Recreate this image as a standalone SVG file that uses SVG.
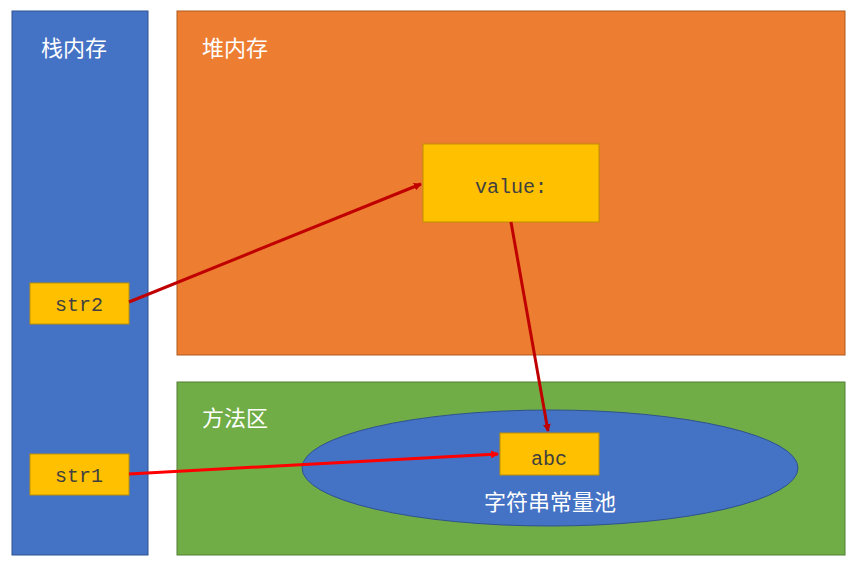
<svg xmlns="http://www.w3.org/2000/svg" width="858" height="568" viewBox="0 0 858 568">
<style>
.cjk{font-family:"Noto Sans CJK SC",sans-serif;font-size:22px;fill:#fff}
.box{fill:#FFC000;stroke:#BF9000;stroke-width:1}
.t{font-family:"Liberation Mono",monospace;font-size:20px;fill:#404040;text-anchor:middle}
</style>
<defs>
<marker id="ad" markerWidth="8" markerHeight="8" refX="7" refY="4" orient="auto" markerUnits="userSpaceOnUse"><path d="M0,0L8,4L0,8z" fill="#C00000"/></marker>
<marker id="ar" markerWidth="8" markerHeight="8" refX="7" refY="4" orient="auto" markerUnits="userSpaceOnUse"><path d="M0,0L8,4L0,8z" fill="#FF0000"/></marker>
</defs>
<rect width="858" height="568" fill="#fff"/>
<g id="stack"><rect x="12" y="11" width="136" height="544" fill="#4472C4" stroke="#2F528F"/><text class="cjk" x="41" y="56">栈内存</text></g>
<g id="heap"><rect x="177" y="11" width="668" height="344" fill="#ED7D31" stroke="#AE5A21"/><text class="cjk" x="202" y="56">堆内存</text></g>
<g id="method"><rect x="177" y="382" width="668" height="173" fill="#70AD47" stroke="#507E32"/><text class="cjk" x="202" y="426">方法区</text></g>
<g id="pool"><ellipse cx="550" cy="468" rx="248" ry="58" fill="#4472C4" stroke="#2F528F"/><text class="cjk" x="550" y="510" text-anchor="middle">字符串常量池</text></g>
<g id="str2"><rect class="box" x="30" y="283" width="99" height="41"/><text class="t" x="79" y="311">str2</text></g>
<g id="str1"><rect class="box" x="30" y="454" width="99" height="41"/><text class="t" x="79" y="482">str1</text></g>
<g id="value"><rect class="box" x="423" y="144" width="176" height="78"/><text class="t" x="511" y="193">value:</text></g>
<g id="abc"><rect class="box" x="500" y="433" width="99" height="42"/><text class="t" x="549" y="465">abc</text></g>
<g id="connectors" fill="none" stroke-width="3">
<line x1="129" y1="302" x2="421" y2="184" stroke="#C00000" marker-end="url(#ad)"/>
<line x1="511" y1="222" x2="548" y2="431" stroke="#C00000" marker-end="url(#ad)"/>
<line x1="129" y1="474" x2="498" y2="454" stroke="#FF0000" marker-end="url(#ar)"/>
</g>
</svg>
